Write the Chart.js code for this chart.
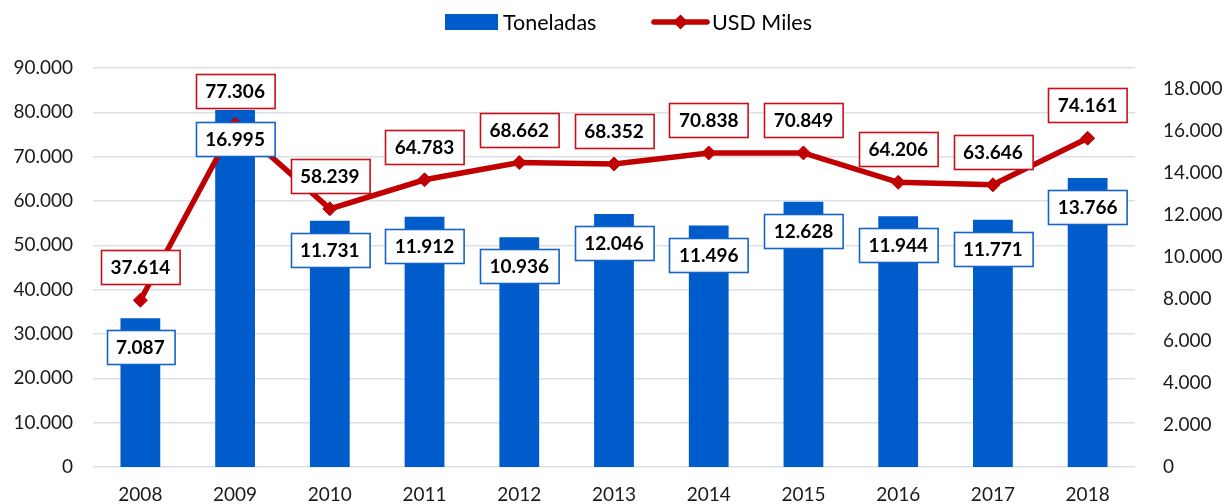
<!DOCTYPE html>
<html>
<head>
<meta charset="utf-8">
<script src="https://cdn.jsdelivr.net/npm/chart.js@4"></script>
<style>
  html, body { margin: 0; padding: 0; background: #fff; }
  #wrap { width: 1224px; height: 504px; }
</style>
</head>
<body>
<div id="wrap"><canvas id="exportChart"></canvas></div>
<script>
const years = ['2008', '2009', '2010', '2011', '2012', '2013', '2014', '2015', '2016', '2017', '2018'];
const toneladas = [7087, 16995, 11731, 11912, 10936, 12046, 11496, 12628, 11944, 11771, 13766];
const usdMiles = [37614, 77306, 58239, 64783, 68662, 68352, 70838, 70849, 64206, 63646, 74161];
const leftTicks = [0, 10000, 20000, 30000, 40000, 50000, 60000, 70000, 80000, 90000];
const rightTicks = [0, 2000, 4000, 6000, 8000, 10000, 12000, 14000, 16000, 18000];

const BLUE = '#005BCB';
const RED = '#C00000';

function fmt(n) {
    return String(n).replace(/\B(?=(\d{3})+(?!\d))/g, '.');
}

// boxed value labels (Excel style)
const boxLabels = {
    id: 'boxLabels',
    afterDatasetsDraw(chart) {
        const ctx = chart.ctx;
        ctx.save();
        ctx.font = 'bold 19px Lato';
        ctx.textAlign = 'center';
        ctx.textBaseline = 'middle';
        chart.data.datasets.forEach((ds, i) => {
            const meta = chart.getDatasetMeta(i);
            const isBar = ds.type === 'bar';
            meta.data.forEach((el, j) => {
                const txt = fmt(ds.data[j]);
                const w = ctx.measureText(txt).width + 19;
                const h = 34;
                const cy = isBar ? el.y + 29 : el.y - 33;
                const x0 = Math.round(el.x - w / 2) + 0.5;
                const y0 = Math.round(cy - h / 2) + 0.5;
                ctx.fillStyle = '#fff';
                ctx.fillRect(x0, y0, w, h);
                ctx.lineWidth = 1.6;
                ctx.strokeStyle = isBar ? '#1565C8' : '#C8101A';
                ctx.strokeRect(x0, y0, w, h);
                ctx.fillStyle = '#000';
                ctx.fillText(txt, el.x, cy + 1);
            });
        });
        ctx.restore();
    }
};

// legend drawn by hand so the swatches look like the Excel ones
const topLegend = {
    id: 'topLegend',
    afterDraw(chart) {
        const ctx = chart.ctx;
        const y = 22;
        ctx.save();
        ctx.font = '21.5px Lato';
        ctx.textBaseline = 'middle';
        let x = 445;
        ctx.fillStyle = BLUE;
        ctx.fillRect(x, y - 8, 53, 16);
        ctx.fillStyle = '#000';
        ctx.fillText('Toneladas', x + 58, y + 1);
        x = 652;
        ctx.strokeStyle = RED;
        ctx.lineWidth = 5.5;
        ctx.lineCap = 'round';
        ctx.beginPath();
        ctx.moveTo(x + 2, y);
        ctx.lineTo(x + 55, y);
        ctx.stroke();
        ctx.fillStyle = RED;
        ctx.beginPath();
        ctx.moveTo(x + 28.5, y - 7.5);
        ctx.lineTo(x + 36, y);
        ctx.lineTo(x + 28.5, y + 7.5);
        ctx.lineTo(x + 21, y);
        ctx.closePath();
        ctx.fill();
        ctx.fillStyle = '#000';
        ctx.fillText('USD Miles', x + 60, y + 1);
        ctx.restore();
    }
};

Chart.defaults.font.family = 'Lato';
Chart.defaults.color = '#1a1a1a';

const ctx = document.getElementById('exportChart').getContext('2d');
new Chart(ctx, {
    data: {
        labels: years,
        datasets: [
            {
                type: 'line',
                label: 'USD Miles',
                data: usdMiles,
                yAxisID: 'y',
                borderColor: RED,
                backgroundColor: RED,
                borderWidth: 5.5,
                tension: 0,
                pointStyle: 'rectRot',
                pointRadius: 7,
                pointBorderWidth: 1,
                order: 1
            },
            {
                type: 'bar',
                label: 'Toneladas',
                data: toneladas,
                yAxisID: 'y1',
                backgroundColor: BLUE,
                categoryPercentage: 1,
                barPercentage: 0.42,
                order: 2
            }
        ]
    },
    options: {
        responsive: true,
        maintainAspectRatio: false,
        animation: false,
        layout: { padding: { top: 68, left: 0, right: 0, bottom: 0 } },
        plugins: {
            legend: { display: false },
            tooltip: { enabled: false }
        },
        scales: {
            x: {
                grid: { display: false },
                border: { display: false },
                ticks: { font: { size: 19 }, padding: 8 },
                afterFit: (s) => { s.height = 37; }
            },
            y: {
                position: 'left',
                min: 0,
                max: 90000,
                ticks: { font: { size: 19 }, padding: 20, callback: (v) => fmt(v) },
                afterBuildTicks: (s) => { s.ticks = leftTicks.map(v => ({ value: v })); },
                grid: { color: '#DCE0E5', lineWidth: 1.5, drawTicks: false },
                border: { display: false },
                afterFit: (s) => { s.width = 93; }
            },
            y1: {
                position: 'right',
                min: 0,
                max: 19000,
                ticks: { font: { size: 19 }, padding: 20, callback: (v) => fmt(v) },
                afterBuildTicks: (s) => { s.ticks = rightTicks.map(v => ({ value: v })); },
                grid: { display: false },
                border: { display: false },
                afterFit: (s) => { s.width = 89; }
            }
        }
    },
    plugins: [boxLabels, topLegend]
});
</script>
</body>
</html>
